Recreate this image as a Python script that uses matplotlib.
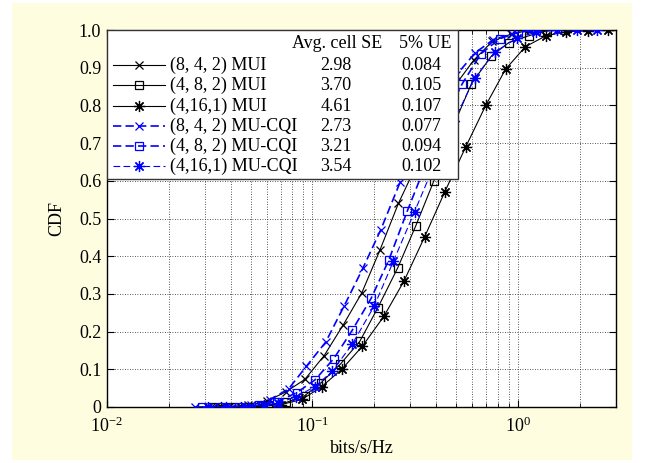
import matplotlib
matplotlib.use('Agg')
import matplotlib.pyplot as plt
from matplotlib.patches import Rectangle

plt.rcParams['font.family'] = ['Liberation Serif', 'DejaVu Serif']
plt.rcParams['mathtext.fontset'] = 'custom'
plt.rcParams['mathtext.rm'] = 'Liberation Serif'
plt.rcParams['mathtext.it'] = 'Liberation Serif:italic'
plt.rcParams['font.size'] = 13

# CDF curves (x in bits/s/Hz, y = CDF)
mui_842_x = [0.032, 0.0395, 0.0487, 0.0602, 0.0743, 0.0918, 0.114, 0.141, 0.174, 0.213,
             0.262, 0.323, 0.399, 0.49, 0.609, 0.75, 0.93, 1.15]
mui_842_y = [0, 0.001, 0.004, 0.016, 0.04, 0.073, 0.136, 0.217, 0.303, 0.416,
             0.54, 0.645, 0.75, 0.85, 0.92, 0.97, 0.99, 1.0]

mui_482_x = [0.0325, 0.040, 0.049, 0.0605, 0.0745, 0.0917, 0.110, 0.137, 0.170, 0.208,
             0.260, 0.318, 0.39, 0.48, 0.594, 0.74, 0.903, 1.13, 1.38, 1.7]
mui_482_y = [0, 0, 0.001, 0.004, 0.012, 0.03, 0.064, 0.114, 0.174, 0.263,
             0.369, 0.48, 0.60, 0.74, 0.858, 0.93, 0.967, 0.985, 0.998, 1.0]

mui_4161_x = [0.036, 0.045, 0.056, 0.070, 0.089, 0.111, 0.139, 0.175, 0.223, 0.279,
              0.352, 0.44, 0.557, 0.697, 0.87, 1.087, 1.37, 1.72, 2.18, 2.75]
mui_4161_y = [0, 0.001, 0.002, 0.006, 0.02, 0.054, 0.10, 0.161, 0.241, 0.334,
              0.452, 0.57, 0.69, 0.80, 0.896, 0.956, 0.985, 0.996, 0.998, 1.0]

cqi_842_x = [0.0267, 0.033, 0.0405, 0.050, 0.062, 0.0766, 0.0935, 0.116, 0.143, 0.176,
             0.215, 0.267, 0.33, 0.41, 0.50, 0.62, 0.76, 0.94, 1.16]
cqi_842_y = [0, 0, 0.001, 0.004, 0.019, 0.048, 0.108, 0.172, 0.269, 0.368,
             0.47, 0.596, 0.71, 0.81, 0.88, 0.94, 0.975, 0.99, 1.0]

cqi_482_x = [0.029, 0.036, 0.044, 0.055, 0.067, 0.084, 0.103, 0.127, 0.156, 0.193,
             0.235, 0.29, 0.36, 0.44, 0.535, 0.66, 0.815, 1.0, 1.23]
cqi_482_y = [0, 0, 0.001, 0.005, 0.014, 0.038, 0.072, 0.128, 0.203, 0.288,
             0.389, 0.521, 0.65, 0.76, 0.857, 0.937, 0.977, 0.994, 1.0]

cqi_4161_x = [0.031, 0.038, 0.047, 0.058, 0.068, 0.083, 0.103, 0.125, 0.156, 0.2,
              0.248, 0.314, 0.39, 0.49, 0.616, 0.772, 0.99, 1.23, 1.55, 1.93, 2.43]
cqi_4161_y = [0, 0, 0.001, 0.004, 0.01, 0.027, 0.054, 0.095, 0.166, 0.268,
              0.387, 0.518, 0.64, 0.76, 0.873, 0.942, 0.979, 0.995, 1.0, 1.0, 1.0]

labels = ['(8, 4, 2) MUI', '(4, 8, 2) MUI', '(4,16,1) MUI',
          '(8, 4, 2) MU-CQI', '(4, 8, 2) MU-CQI', '(4,16,1) MU-CQI']
avg_cell_se = ['2.98', '3.70', '4.61', '2.73', '3.21', '3.54']
ue_5pct = ['0.084', '0.105', '0.107', '0.077', '0.094', '0.102']

y_ticks = [0, 0.1, 0.2, 0.3, 0.4, 0.5, 0.6, 0.7, 0.8, 0.9, 1.0]
y_tick_labels = ['0', '0.1', '0.2', '0.3', '0.4', '0.5', '0.6', '0.7', '0.8', '0.9', '1.0']

asterisk = (8, 2, 0)
blue = '#0000ff'
styles = [
    dict(color='k', ls='-', lw=0.8, marker='x', ms=6, mew=0.9),
    dict(color='k', ls='-', lw=0.8, marker='s', ms=6, mew=0.9, mfc='none'),
    dict(color='k', ls='-', lw=0.8, marker=asterisk, ms=8, mew=0.9),
    dict(color=blue, ls=(0, (5, 2.5)), lw=1.2, marker='x', ms=6, mew=0.9),
    dict(color=blue, ls=(0, (5, 2.5)), lw=1.2, marker='s', ms=6, mew=0.9, mfc='none'),
    dict(color=blue, ls=(0, (6, 3)), lw=0.8, marker=asterisk, ms=8, mew=0.9),
]
series = [(mui_842_x, mui_842_y), (mui_482_x, mui_482_y), (mui_4161_x, mui_4161_y),
          (cqi_842_x, cqi_842_y), (cqi_482_x, cqi_482_y), (cqi_4161_x, cqi_4161_y)]

fig = plt.figure(figsize=(6.49, 4.63), dpi=100, facecolor='white')
fig.patches.append(Rectangle((12 / 649, 3 / 463), 620 / 649, 457 / 463,
                             transform=fig.transFigure, facecolor='#fffde0',
                             edgecolor='none', zorder=-10))
ax = fig.add_axes([0.1646, 0.121, 0.7846, 0.814])
ax.set_facecolor('white')

for (xs, ys), st in zip(series, styles):
    ax.plot(xs, ys, zorder=3, **st)

ax.set_xscale('log')
ax.set_xlim(0.01, 3)
ax.set_ylim(0, 1)
ax.set_yticks(y_ticks)
ax.set_yticklabels(y_tick_labels)
ax.grid(which='major', color='#222222', ls=(0, (1, 2)), lw=0.6)
ax.grid(which='minor', axis='x', color='#222222', ls=(0, (1, 2)), lw=0.6)
ax.set_axisbelow(True)
ax.tick_params(which='both', direction='in', top=True, right=True)
ax.tick_params(which='major', length=5, pad=4)
ax.tick_params(axis='x', which='major', pad=7)
ax.tick_params(which='minor', length=3)
for sp in ax.spines.values():
    sp.set_linewidth(1.0)

ax.set_xlabel('bits/s/Hz', labelpad=3)
ax.set_ylabel('CDF', labelpad=10)

# table-like legend in the upper-left corner
ax.add_patch(Rectangle((0.001, 0.604), 0.688, 0.396, transform=ax.transAxes,
                       facecolor='white', edgecolor='#333333', lw=1.0, zorder=5))
ax.text(0.453, 0.9655, 'Avg. cell SE', transform=ax.transAxes, ha='center', va='center', zorder=6)
ax.text(0.626, 0.9655, '5% UE', transform=ax.transAxes, ha='center', va='center', zorder=6)
row_y = [0.907, 0.854, 0.798, 0.745, 0.692, 0.639]
for i, st in enumerate(styles):
    yy = row_y[i]
    line_st = {k: v for k, v in st.items() if k not in ('marker', 'ms', 'mew', 'mfc')}
    ax.plot([0.0116, 0.114], [yy, yy], transform=ax.transAxes, clip_on=False, zorder=6, **line_st)
    ax.plot([0.0633], [yy], transform=ax.transAxes, clip_on=False, zorder=7, ls='none',
            color=st['color'], marker=st['marker'], ms=st['ms'], mew=st['mew'],
            mfc=st.get('mfc', st['color']))
    ax.text(0.124, yy, labels[i], transform=ax.transAxes, ha='left', va='center', zorder=6)
    ax.text(0.450, yy, avg_cell_se[i], transform=ax.transAxes, ha='center', va='center', zorder=6)
    ax.text(0.617, yy, ue_5pct[i], transform=ax.transAxes, ha='center', va='center', zorder=6)

plt.savefig('out.png', dpi=100, facecolor=fig.get_facecolor())
plt.close()
